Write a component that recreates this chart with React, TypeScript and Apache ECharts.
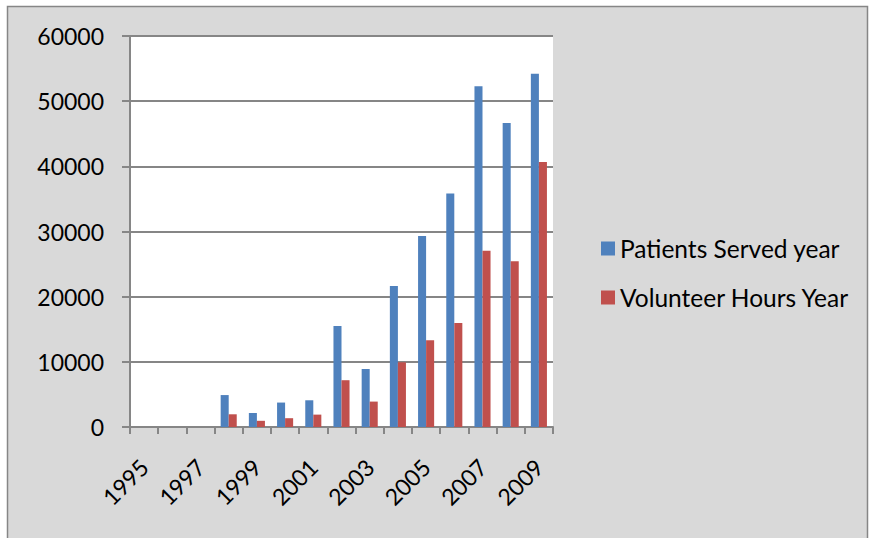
import React, { useEffect, useRef } from "react";
import * as echarts from "echarts";

const years = ["1995","1996","1997","1998","1999","2000","2001","2002","2003","2004","2005","2006","2007","2008","2009"];
const patientsServed = [0, 0, 0, 4900, 2150, 3750, 4100, 15500, 8900, 21650, 29300, 35850, 52300, 46650, 54200];
const volunteerHours = [0, 0, 0, 1950, 950, 1350, 1900, 7180, 3900, 9930, 13320, 15970, 27030, 25450, 40660];
const yTicks = { min: 0, max: 60000, interval: 10000 };

const FONT = "Lato, 'Open Sans', sans-serif";

export default function App() {
  const ref = useRef<HTMLDivElement>(null);
  useEffect(() => {
    if (!ref.current) return;
    const chart = echarts.init(ref.current, null, { renderer: "svg" });
    chart.setOption({
      animation: false,
      backgroundColor: "#ffffff",
      graphic: [
        {
          type: "rect",
          z: -10,
          silent: true,
          shape: { x: 7.5, y: 6.5, width: 860, height: 540 },
          style: { fill: "#d9d9d9", stroke: "#868686", lineWidth: 1.5 },
        },
      ],
      grid: {
        left: 130,
        right: 317,
        top: 36,
        bottom: 111,
        show: true,
        backgroundColor: "#ffffff",
        borderWidth: 0,
      },
      legend: {
        orient: "vertical",
        left: 596,
        top: 231,
        itemWidth: 14,
        itemHeight: 14,
        itemGap: 24,
        icon: "rect",
        textStyle: { fontFamily: FONT, fontSize: 24.5, color: "#000", lineHeight: 24 },
        data: ["Patients Served year", "Volunteer Hours Year"],
      },
      xAxis: {
        type: "category",
        data: years,
        axisLine: { lineStyle: { color: "#868686", width: 2 } },
        axisTick: { show: true, interval: 0, length: 7, lineStyle: { color: "#868686", width: 2 } },
        axisLabel: {
          interval: 1,
          rotate: 45,
          fontFamily: FONT,
          fontSize: 23,
          color: "#000",
          margin: 36,
        },
      },
      yAxis: {
        type: "value",
        min: yTicks.min,
        max: yTicks.max,
        interval: yTicks.interval,
        axisLine: { show: true, lineStyle: { color: "#868686", width: 2 } },
        axisTick: { show: true, length: 8, lineStyle: { color: "#868686", width: 2 } },
        splitLine: { show: true, lineStyle: { color: "#868686", width: 2 } },
        axisLabel: {
          fontFamily: FONT,
          fontSize: 23,
          color: "#000",
          margin: 26,
          formatter: (v: number) => String(v),
        },
      },
      series: [
        {
          name: "Patients Served year",
          type: "bar",
          data: patientsServed,
          barGap: "0%",
          barCategoryGap: "43%",
          itemStyle: { color: "#4f81bd" },
        },
        {
          name: "Volunteer Hours Year",
          type: "bar",
          data: volunteerHours,
          barGap: "0%",
          barCategoryGap: "43%",
          itemStyle: { color: "#c0504d" },
        },
      ],
    });
    return () => chart.dispose();
  }, []);
  return (
    <div
      ref={ref}
      style={{ position: "fixed", left: 0, top: 0, width: 870, height: 538 }}
    />
  );
}
